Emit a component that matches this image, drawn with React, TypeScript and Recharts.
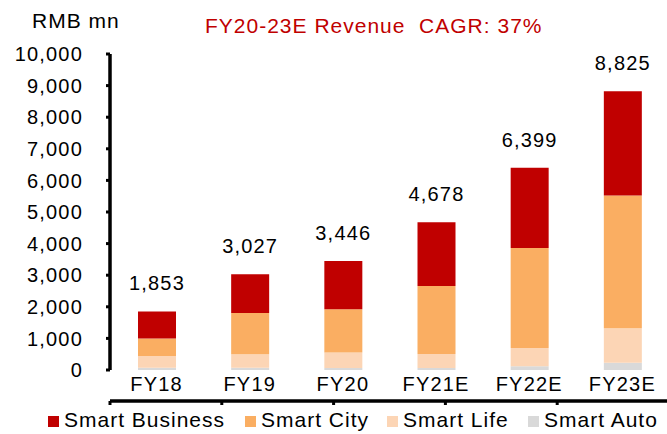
import { BarChart, Bar, XAxis, YAxis, LabelList } from 'recharts';

const years = ['FY18', 'FY19', 'FY20', 'FY21E', 'FY22E', 'FY23E'];
const smartAuto = [75, 70, 60, 60, 120, 230];
const smartLife = [370, 430, 495, 450, 580, 1090];
const smartCity = [550, 1300, 1365, 2150, 3160, 4200];
const smartBusiness = [858, 1227, 1526, 2018, 2539, 3305];
const totals = [1853, 3027, 3446, 4678, 6399, 8825];
const yTicks = [0, 1000, 2000, 3000, 4000, 5000, 6000, 7000, 8000, 9000, 10000];
const boundaryTicks = [0, 1, 2, 3, 4, 5, 6];

const series = [
  { key: 'auto', name: 'Smart Auto', color: '#D9D9D9', legendX: 528 },
  { key: 'life', name: 'Smart Life', color: '#FCD5B5', legendX: 387 },
  { key: 'city', name: 'Smart City', color: '#FAAE62', legendX: 245 },
  { key: 'business', name: 'Smart Business', color: '#C00000', legendX: 48 },
];

const data = years.map((year, i) => ({
  year,
  auto: smartAuto[i],
  life: smartLife[i],
  city: smartCity[i],
  business: smartBusiness[i],
  total: totals[i],
}));

const FONT = '"Liberation Sans", Arial, sans-serif';
const fmt = (v: number) => v.toLocaleString('en-US');
const axisText = { fontSize: 20, fill: '#000', fontFamily: FONT, letterSpacing: 1.2 };

export default function App() {
  return (
    <div style={{ position: 'absolute', left: 0, top: 0, width: 667, height: 434, overflow: 'hidden', fontFamily: FONT, background: '#fff' }}>
      <div style={{ position: 'absolute', left: 32, top: 9, fontSize: 21, letterSpacing: 1, color: '#000' }}>RMB mn</div>
      <div style={{ position: 'absolute', left: 205, top: 14, fontSize: 21, letterSpacing: 1, color: '#C00000', whiteSpace: 'pre' }}>
        {'FY20-23E Revenue  CAGR: 37%'}
      </div>
      <BarChart
        width={667}
        height={434}
        data={data}
        margin={{ top: 54, right: -2, left: 0, bottom: 32 }}
        barSize={38}
      >
        <XAxis
          xAxisId="num"
          type="number"
          domain={[0, 6]}
          ticks={boundaryTicks}
          height={1}
          axisLine={{ stroke: '#000', strokeWidth: 3.5 }}
          tickLine={{ stroke: '#000', strokeWidth: 3 }}
          tickSize={4}
          tick={() => <g />}
          allowDataOverflow
        />
        <XAxis
          xAxisId="cat"
          dataKey="year"
          axisLine={false}
          tickLine={false}
          tickSize={0}
          tickMargin={7}
          height={31}
          tick={axisText}
          interval={0}
        />
        <YAxis
          width={110}
          domain={[0, 10000]}
          ticks={yTicks}
          tickFormatter={fmt}
          axisLine={{ stroke: '#000', strokeWidth: 3.5 }}
          tickLine={{ stroke: '#000', strokeWidth: 3 }}
          tickSize={4}
          tickMargin={23}
          tick={axisText}
          interval={0}
        />
        {series.map((s) => (
          <Bar key={s.key} xAxisId="cat" dataKey={s.key} name={s.name} stackId="a" fill={s.color} isAnimationActive={false}>
            {s.key === 'business' && (
              <LabelList
                dataKey="total"
                position="top"
                offset={21}
                formatter={(v: any) => fmt(Number(v))}
                style={axisText}
              />
            )}
          </Bar>
        ))}
      </BarChart>
      {[...series].reverse().map((s) => (
        <div
          key={s.key}
          style={{ position: 'absolute', left: s.legendX, top: 408, display: 'flex', alignItems: 'center', fontSize: 21, letterSpacing: 1, color: '#000' }}
        >
          <span style={{ display: 'inline-block', width: 11, height: 11, background: s.color, marginRight: 5, marginTop: 2 }} />
          <span style={{ whiteSpace: 'pre' }}>{s.name}</span>
        </div>
      ))}
    </div>
  );
}
